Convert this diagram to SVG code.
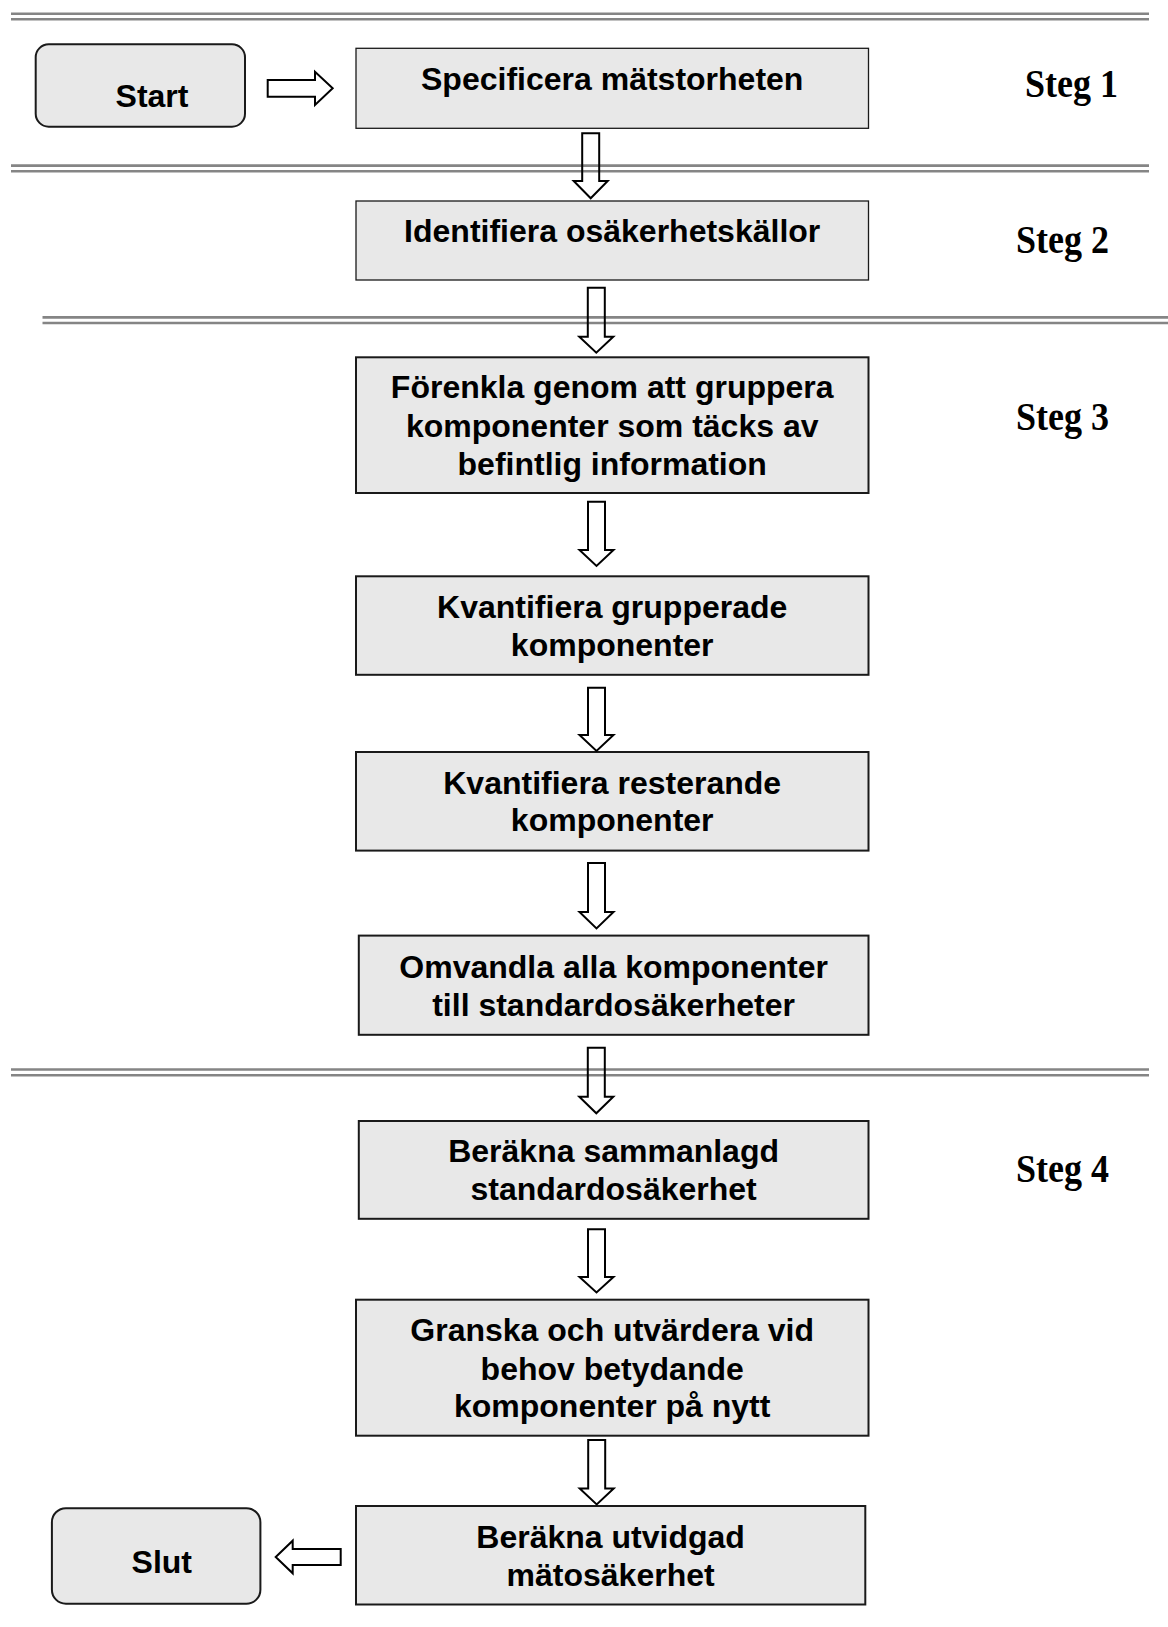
<svg xmlns="http://www.w3.org/2000/svg" width="1168" height="1627" viewBox="0 0 1168 1627">
  <style>
    .box { fill: #e8e8e8; stroke: #1a1a1a; stroke-width: 2; }
    .thin { stroke-width: 1.3; }
    .term { fill: #e8e8e8; stroke: #1a1a1a; stroke-width: 2; }
    .lbl { font-family: "Liberation Sans", Arial, sans-serif; font-weight: bold; font-size: 32px; text-anchor: middle; fill: #000; }
    .steg { font-family: "Liberation Serif", "Times New Roman", serif; font-weight: bold; font-size: 36px; fill: #000; }
    .sep line { stroke: #858585; stroke-width: 2.6; }
    .arrow { fill: none; stroke: #000; stroke-width: 2; stroke-linejoin: miter; }
  </style>

  <!-- stage separators (double rules) -->
  <g id="separators" class="sep">
    <line x1="11" y1="13.8" x2="1149" y2="13.8"/>
    <line x1="11" y1="19.2" x2="1149" y2="19.2"/>
    <line x1="11" y1="165.6" x2="1149" y2="165.6"/>
    <line x1="11" y1="171.2" x2="1149" y2="171.2"/>
    <line x1="42.5" y1="317.4" x2="1168" y2="317.4"/>
    <line x1="42.5" y1="323" x2="1168" y2="323"/>
    <line x1="11" y1="1069.5" x2="1149" y2="1069.5"/>
    <line x1="11" y1="1075.2" x2="1149" y2="1075.2"/>
  </g>

  <!-- step labels -->
  <g id="steps">
    <text class="steg" transform="translate(1025 96.7) scale(1 1.1)">Steg 1</text>
    <text class="steg" transform="translate(1016 253.3) scale(1 1.1)">Steg 2</text>
    <text class="steg" transform="translate(1016 430) scale(1 1.1)">Steg 3</text>
    <text class="steg" transform="translate(1016 1182) scale(1 1.1)">Steg 4</text>
  </g>

  <g id="start">
    <rect class="term" x="35.7" y="44.3" width="209.3" height="82.4" rx="13"/>
    <text class="lbl" x="152" y="106.7">Start</text>
  </g>

  <g id="specify">
    <rect class="box thin" x="356" y="48.3" width="512.5" height="80"/>
    <text class="lbl" x="612.2" y="90">Specificera mätstorheten</text>
  </g>

  <g id="identify">
    <rect class="box thin" x="356" y="201" width="512.5" height="79"/>
    <text class="lbl" x="612.2" y="241.8">Identifiera osäkerhetskällor</text>
  </g>

  <g id="simplify">
    <rect class="box" x="356" y="357.3" width="512.5" height="135.7"/>
    <text class="lbl" x="612.2" y="398.3">Förenkla genom att gruppera</text>
    <text class="lbl" x="612.2" y="436.7">komponenter som täcks av</text>
    <text class="lbl" x="612.2" y="475">befintlig information</text>
  </g>

  <g id="quantify-grouped">
    <rect class="box" x="356" y="576.3" width="512.5" height="98.5"/>
    <text class="lbl" x="612.2" y="618.4">Kvantifiera grupperade</text>
    <text class="lbl" x="612.2" y="656.2">komponenter</text>
  </g>

  <g id="quantify-remaining">
    <rect class="box" x="356" y="752" width="512.5" height="98.6"/>
    <text class="lbl" x="612.2" y="793.7">Kvantifiera resterande</text>
    <text class="lbl" x="612.2" y="831.3">komponenter</text>
  </g>

  <g id="convert">
    <rect class="box" x="358.8" y="935.6" width="509.7" height="99.2"/>
    <text class="lbl" x="613.6" y="978.3">Omvandla alla komponenter</text>
    <text class="lbl" x="613.6" y="1015.8">till standardosäkerheter</text>
  </g>

  <g id="combined">
    <rect class="box" x="358.8" y="1121" width="509.7" height="97.8"/>
    <text class="lbl" x="613.6" y="1161.8">Beräkna sammanlagd</text>
    <text class="lbl" x="613.6" y="1200">standardosäkerhet</text>
  </g>

  <g id="review">
    <rect class="box" x="356" y="1299.7" width="512.5" height="136"/>
    <text class="lbl" x="612.2" y="1341.4">Granska och utvärdera vid</text>
    <text class="lbl" x="612.2" y="1379.7">behov betydande</text>
    <text class="lbl" x="612.2" y="1417.1">komponenter på nytt</text>
  </g>

  <g id="expanded">
    <rect class="box" x="356" y="1506" width="509.3" height="98.5"/>
    <text class="lbl" x="610.6" y="1548.2">Beräkna utvidgad</text>
    <text class="lbl" x="610.6" y="1585.6">mätosäkerhet</text>
  </g>

  <g id="end">
    <rect class="term" x="51.9" y="1508.2" width="208.5" height="95.5" rx="14"/>
    <text class="lbl" x="161.8" y="1572.5">Slut</text>
  </g>

  <!-- block arrows between the steps -->
  <g id="connectors" class="arrow">
    <path d="M267.7,80 H315 V71.7 L332.7,88.3 L315,105 V96.7 H267.7 Z"/>
    <path d="M582.2,133.3 H599.2 V181 H607.7 L590.7,198.3 L573.7,181 H582.2 Z"/>
    <path d="M587.8,287.7 H604.8 V336.7 H613.3 L596.3,352.7 L579.3,336.7 H587.8 Z"/>
    <path d="M588,501.7 H605 V550 H613.5 L596.5,566 L579.5,550 H588 Z"/>
    <path d="M588,687.7 H605 V735 H613.5 L596.5,751 L579.5,735 H588 Z"/>
    <path d="M588,863 H605 V912 H613.5 L596.5,928.4 L579.5,912 H588 Z"/>
    <path d="M587.8,1047.7 H604.8 V1096.7 H613.3 L596.3,1113.3 L579.3,1096.7 H587.8 Z"/>
    <path d="M588,1229.2 H605 V1277 H613.5 L596.5,1292.5 L579.5,1277 H588 Z"/>
    <path d="M588.2,1440 H605.2 V1488.5 H613.7 L596.7,1504.5 L579.7,1488.5 H588.2 Z"/>
    <path d="M340.7,1549 H292.7 V1540.7 L275.7,1557 L292.7,1573.3 V1565 H340.7 Z"/>
  </g>
</svg>
